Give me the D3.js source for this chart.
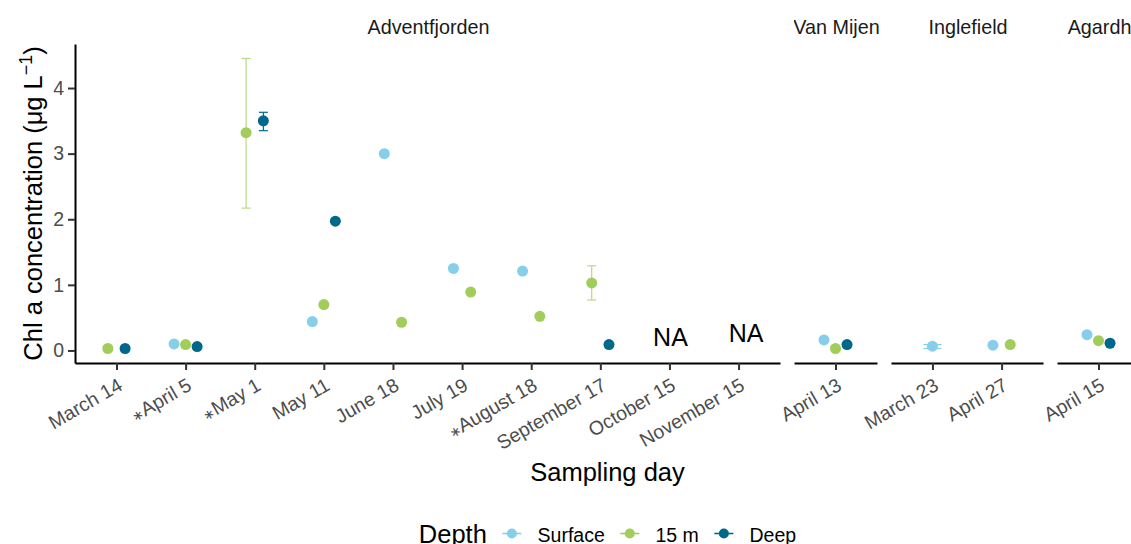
<!DOCTYPE html>
<html>
<head>
<meta charset="utf-8">
<script src="https://cdn.jsdelivr.net/npm/d3@7"></script>
<style>
  html, body { margin: 0; padding: 0; background: #fff; }
  svg { display: block; font-family: "Liberation Sans", Arial, sans-serif; }
</style>
</head>
<body>
<svg id="chart" width="1131" height="544"></svg>
<script>
// ---------------- data ----------------
const panels = ["Adventfjorden", "Van Mijen", "Inglefield", "Agardh"];
const days = ["March 14", "*April 5", "*May 1", "May 11", "June 18", "July 19", "*August 18",
              "September 17", "October 15", "November 15",
              "April 13",
              "March 23", "April 27",
              "April 15"];
const dayPanel = [0, 0, 0, 0, 0, 0, 0, 0, 0, 0, 1, 2, 2, 3];

const seriesNames = ["Surface", "15 m", "Deep"];
const seriesColors = ["#87CEEB", "#A2CD5A", "#00688B"];

const surface   = [null, 0.10, null, 0.44, 3.00, 1.25, 1.21, null, null, null, 0.16, 0.065, 0.08, 0.24];
const m15       = [0.03, 0.09, 3.32, 0.70, 0.43, 0.89, 0.52, 1.03, null, null, 0.03, null, 0.09, 0.15];
const deep      = [0.03, 0.06, 3.50, 1.97, null, null, null, 0.09, null, null, 0.09, null, null, 0.11];

// error bar limits (null = not visible)
const surfaceLo = [null, null, null, null, null, null, null, null, null, null, null, 0.03, null, null];
const surfaceHi = [null, null, null, null, null, null, null, null, null, null, null, 0.09, null, null];
const m15Lo     = [null, null, 2.17, null, null, null, null, 0.77, null, null, null, null, null, null];
const m15Hi     = [null, null, 4.45, null, null, null, null, 1.29, null, null, null, null, null, null];
const deepLo    = [null, null, 3.35, null, null, null, null, null, null, null, null, null, null, null];
const deepHi    = [null, null, 3.63, null, null, null, null, null, null, null, null, null, null, null];

const naDays   = ["October 15", "November 15"];
const naValues = [0.20, 0.26];

const yTicks = [0, 1, 2, 3, 4];

// ---------------- layout ----------------
const W = 1131, H = 544;
const plotLeft = 75, plotRight = 1140, plotTop = 44, plotBottom = 363, gap = 14;
const font = '"Liberation Sans", Arial, sans-serif';
const smallSize = 19.5, stripSize = 19.8, titleSize = 25.5;
const textGrey = "#4D4D4D";

const svg = d3.select("#chart");

const values = [surface, m15, deep];
const los = [surfaceLo, m15Lo, deepLo];
const his = [surfaceHi, m15Hi, deepHi];

// panel widths (free x space, ggplot discrete expansion 0.6)
const nPer = panels.map((p, i) => dayPanel.filter(d => d === i).length);
const unit = (plotRight - plotLeft - gap * (panels.length - 1)) / d3.sum(nPer, n => n + 0.2);
let cursor = plotLeft;
const xScales = panels.map((p, i) => {
  const w = (nPer[i] + 0.2) * unit;
  const s = d3.scalePoint()
    .domain(days.filter((d, k) => dayPanel[k] === i))
    .range([cursor, cursor + w])
    .padding(0.6);
  cursor += w + gap;
  return s;
});

// y scale with 5% expansion
const allVals = [];
values.forEach(a => a.forEach(v => v != null && allVals.push(v)));
los.forEach(a => a.forEach(v => v != null && allVals.push(v)));
his.forEach(a => a.forEach(v => v != null && allVals.push(v)));
const lo = d3.min(allVals), hi = d3.max(allVals), span = hi - lo;
const y = d3.scaleLinear().domain([lo - 0.05 * span, hi + 0.05 * span]).range([plotBottom, plotTop]);

// ---------------- strips ----------------
const defs = svg.append("defs");
panels.forEach((p, i) => {
  const r = xScales[i].range();
  defs.append("clipPath").attr("id", "strip" + i)
    .append("rect").attr("x", r[0]).attr("y", 0).attr("width", r[1] - r[0] + 5).attr("height", plotTop);
  svg.append("text")
    .attr("clip-path", `url(#strip${i})`)
    .attr("x", (r[0] + r[1]) / 2 + 1).attr("y", 34)
    .attr("text-anchor", "middle")
    .attr("font-size", stripSize).attr("fill", "#1A1A1A")
    .text(p);
});

// ---------------- y axis ----------------
const yAxis = svg.append("g").attr("transform", `translate(${plotLeft},0)`)
  .call(d3.axisLeft(y).tickValues(yTicks).tickSize(7).tickSizeOuter(0).tickPadding(4).tickFormat(d3.format("d")));
yAxis.select(".domain").attr("stroke", "#000").attr("stroke-width", 2);
yAxis.selectAll(".tick line").attr("stroke", "#333").attr("stroke-width", 2);
yAxis.selectAll(".tick text").attr("font-size", smallSize).attr("fill", textGrey).attr("font-family", font);

// ---------------- x axes ----------------
xScales.forEach((s, i) => {
  const g = svg.append("g").attr("transform", `translate(0,${plotBottom})`)
    .call(d3.axisBottom(s).tickSize(7).tickSizeOuter(0));
  g.select(".domain").attr("stroke", "#000").attr("stroke-width", 2);
  g.selectAll(".tick line").attr("stroke", "#333").attr("stroke-width", 2);
  g.selectAll(".tick text").each(function(d) {
    const t = d3.select(this);
    t.text(null)
      .attr("x", 0).attr("y", 0).attr("dy", "0.71em")
      .attr("text-anchor", "end")
      .attr("transform", "translate(0,14) rotate(-30)")
      .attr("font-size", smallSize).attr("fill", textGrey).attr("font-family", font);
    if (d.startsWith("*")) {
      t.append("tspan").attr("font-family", '"DejaVu Sans", sans-serif').attr("font-size", "0.7em").text("\u2217");
      t.append("tspan").text(d.slice(1));
    } else {
      t.text(d);
    }
  });
});

// ---------------- points & error bars ----------------
const dodgeW = 0.5 * unit, errW = 0.26 * unit;
const marks = svg.append("g");
days.forEach((d, k) => {
  const s = xScales[dayPanel[k]];
  const present = [0, 1, 2].filter(j => values[j][k] != null);
  const n = present.length;
  present.forEach((j, idx) => {
    const cx = s(d) - dodgeW / 2 + (idx + 0.5) * dodgeW / n;
    const col = seriesColors[j];
    if (los[j][k] != null) {
      const cw = errW / n / 2;
      const eg = marks.append("g").attr("stroke", col).attr("stroke-width", 1.2).attr("opacity", j === 1 ? 0.75 : 1);
      eg.append("line").attr("x1", cx).attr("x2", cx).attr("y1", y(los[j][k])).attr("y2", y(his[j][k]));
      eg.append("line").attr("x1", cx - cw).attr("x2", cx + cw).attr("y1", y(los[j][k])).attr("y2", y(los[j][k]));
      eg.append("line").attr("x1", cx - cw).attr("x2", cx + cw).attr("y1", y(his[j][k])).attr("y2", y(his[j][k]));
    }
    marks.append("circle").attr("cx", cx).attr("cy", y(values[j][k])).attr("r", 5.5).attr("fill", col);
  });
});

// NA labels
naDays.forEach((d, i) => {
  const k = days.indexOf(d);
  const s = xScales[dayPanel[k]];
  svg.append("text")
    .attr("x", s(d) + (i === 1 ? 0.11 * unit : 0.015 * unit)).attr("y", y(naValues[i]))
    .attr("dy", "0.36em").attr("text-anchor", "middle")
    .attr("font-size", 25).attr("fill", "#000")
    .text("NA");
});

// ---------------- axis titles ----------------
const plotCenterX = (plotLeft + plotRight) / 2;
svg.append("text").attr("x", plotCenterX).attr("y", 481).attr("text-anchor", "middle")
  .attr("font-size", titleSize).attr("fill", "#000").text("Sampling day");

const yt = svg.append("text")
  .attr("transform", `translate(42,${(plotTop + plotBottom) / 2}) rotate(-90)`)
  .attr("text-anchor", "middle").attr("font-size", titleSize).attr("fill", "#000");
yt.append("tspan").text("Chl a concentration (\u03BCg L");
yt.append("tspan").attr("font-size", "0.7em").attr("dy", "-0.55em").text("\u22121");
yt.append("tspan").attr("dy", "0.385em").text(")");

// ---------------- legend ----------------
const leg = svg.append("g");
const legTitle = leg.append("text").attr("x", 0).attr("y", 543).attr("font-size", titleSize).attr("fill", "#000").text("Depth");
let lx = legTitle.node().getComputedTextLength();
const keyY = 533.5;
seriesNames.forEach((nm, j) => {
  const kc = lx + 25;
  leg.append("line").attr("x1", kc - 9.5).attr("x2", kc + 9.5).attr("y1", keyY).attr("y2", keyY)
    .attr("stroke", seriesColors[j]).attr("stroke-width", 1.6);
  leg.append("circle").attr("cx", kc).attr("cy", keyY).attr("r", 5).attr("fill", seriesColors[j]);
  const t = leg.append("text").attr("x", kc + 25.7).attr("y", 542).attr("font-size", smallSize).attr("fill", "#000").text(nm);
  lx = kc + 25.7 + t.node().getComputedTextLength();
});
leg.attr("transform", `translate(${plotCenterX - lx / 2},0)`);
</script>
</body>
</html>
